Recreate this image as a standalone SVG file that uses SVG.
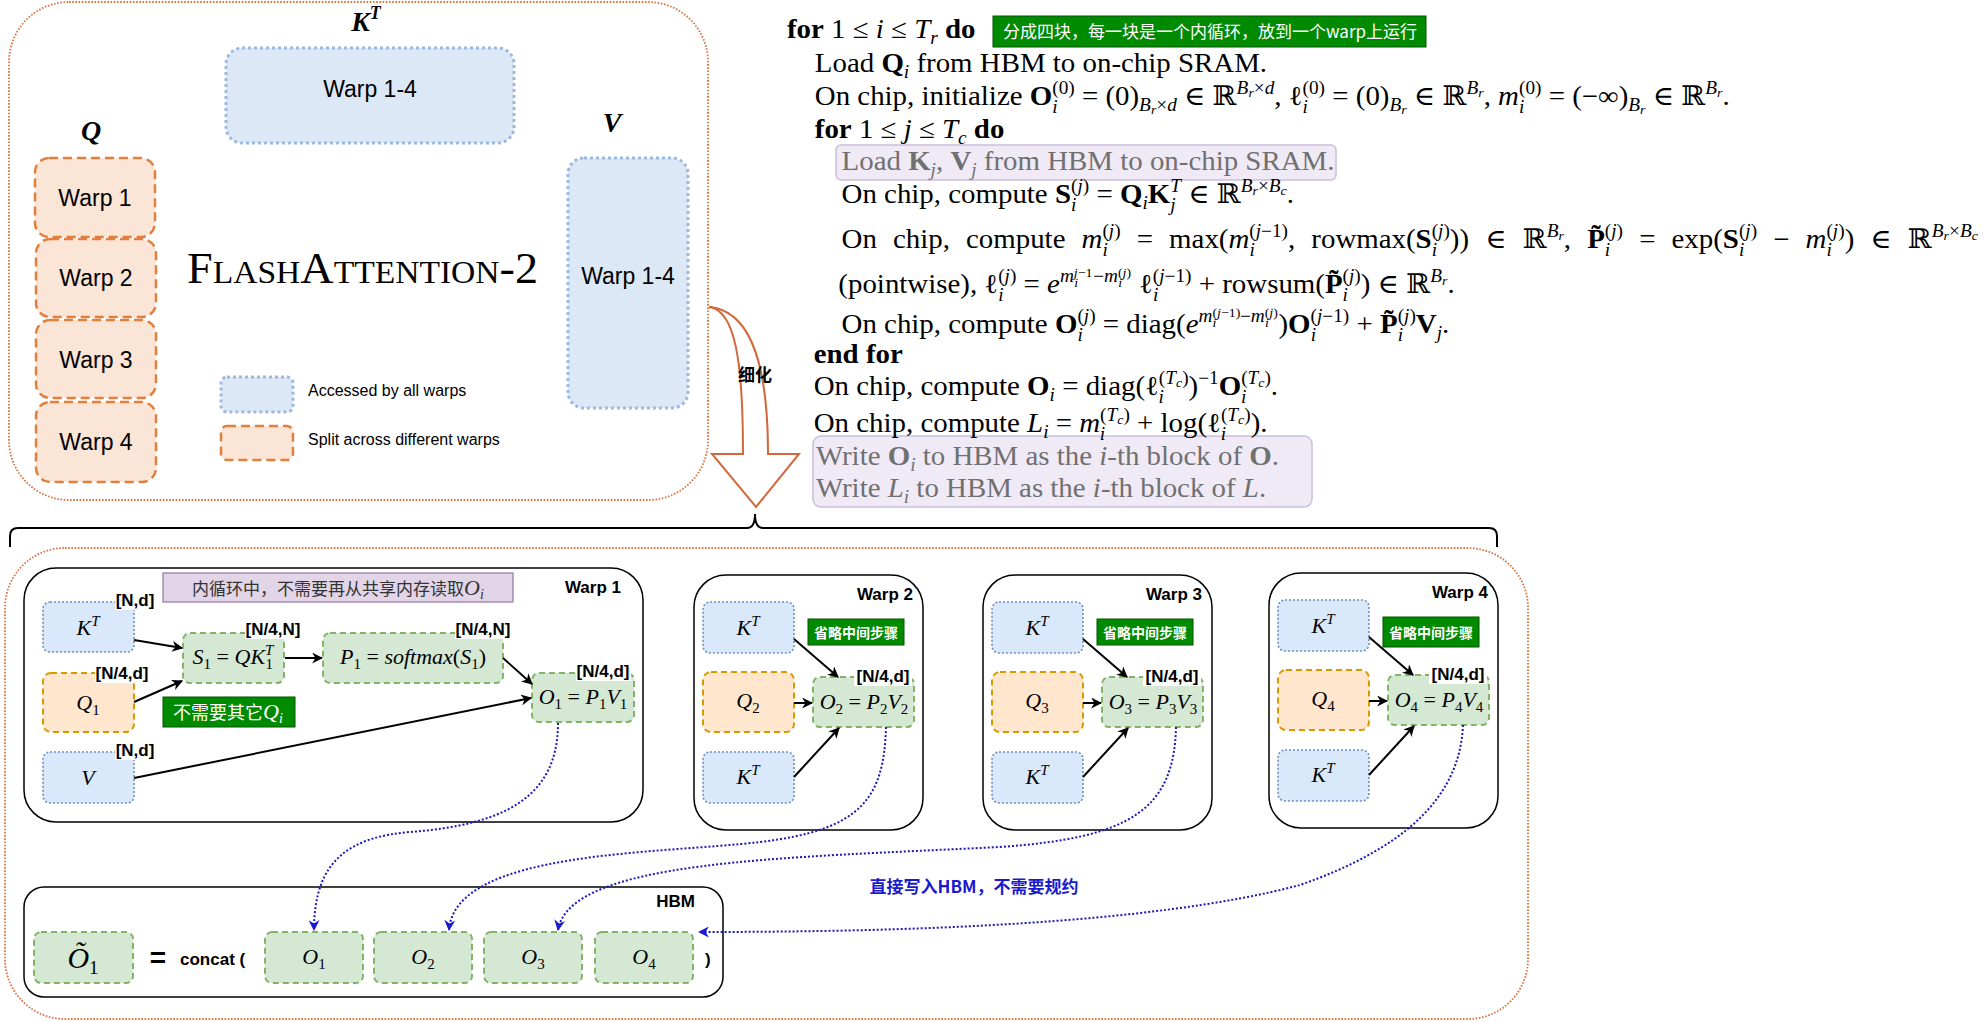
<svg xmlns="http://www.w3.org/2000/svg" width="1988" height="1022" viewBox="0 0 1988 1022">
<defs>
<marker id="ah" viewBox="0 0 10 10" refX="9" refY="5" markerWidth="11" markerHeight="11" markerUnits="userSpaceOnUse" orient="auto"><path d="M0,0 L10,5 L0,10 L3,5 z" fill="#000"/></marker>
<marker id="ahb" viewBox="0 0 10 10" refX="9" refY="5" markerWidth="11" markerHeight="11" markerUnits="userSpaceOnUse" orient="auto"><path d="M0,0 L10,5 L0,10 L3,5 z" fill="#1a1ad0"/></marker>
<style>
.od{fill:none;stroke:#d9733f;stroke-width:1.8;stroke-dasharray:1.6 1.6}
.tb{fill:#dde8f6;stroke:#9db9e1;stroke-width:3;stroke-dasharray:3 3}
.tq{fill:#fbe5d6;stroke:#e07f3e;stroke-width:2.5;stroke-dasharray:9 5}
.cal{font-family:"Liberation Sans",Arial,sans-serif;fill:#000}
.bx{fill:#dae8fc;stroke:#6c8ebf;stroke-width:1.6;stroke-dasharray:2 2}
.qx{fill:#ffe6cc;stroke:#d79b00;stroke-width:2;stroke-dasharray:6 4}
.gx{fill:#d5e8d4;stroke:#82b366;stroke-width:2;stroke-dasharray:6 4}
.cont{fill:#fff;stroke:#000;stroke-width:1.5}
.gbox{fill:#008a00;stroke:#005700;stroke-width:1}
.lbl{font-family:"Liberation Sans",Arial,sans-serif;font-weight:bold;font-size:17px;fill:#000}
.m{font-family:"Liberation Serif","DejaVu Serif",serif;font-style:italic;font-size:22px;fill:#000}
.ms{font-size:15px}
.up{font-style:normal}
.a{font-family:"Liberation Serif","DejaVu Serif",serif;font-size:27px;fill:#000}
.b{font-weight:bold;font-style:normal}
.it{font-style:italic}
.s{font-size:18px}
.ss{font-size:13px}
.g{fill:#707070}
.cjk{font-family:"Noto Sans CJK SC","Liberation Sans",sans-serif}
.conn{fill:none;stroke:#000;stroke-width:2}
.bc{fill:none;stroke:#1a1ab8;stroke-width:2;stroke-dasharray:2 2}
</style>
</defs>

<!-- ===== Top-left FlashAttention-2 panel ===== -->
<g id="top-panel">
<rect class="od" x="9" y="2" width="699" height="498" rx="60"/>
<text x="366" y="31" text-anchor="middle" font-family="Liberation Serif,serif" font-weight="bold" font-style="italic" font-size="28">K<tspan font-size="18" dy="-12">T</tspan></text>
<text x="91" y="140" text-anchor="middle" font-family="Liberation Serif,serif" font-weight="bold" font-style="italic" font-size="28">Q</text>
<text x="612" y="132" text-anchor="middle" font-family="Liberation Serif,serif" font-weight="bold" font-style="italic" font-size="28">V</text>
</g>
<g id="kt-top">
<rect class="tb" x="226" y="48" width="288" height="95" rx="16"/>
<text class="cal" x="370" y="97" text-anchor="middle" font-size="23">Warp 1-4</text>
</g>
<g id="v-top">
<rect class="tb" x="568" y="158" width="120" height="250" rx="16"/>
<text class="cal" x="628" y="284" text-anchor="middle" font-size="23">Warp 1-4</text>
</g>
<g id="q-warp1"><rect class="tq" x="35" y="158" width="120" height="79" rx="14"/><text class="cal" x="95" y="206" text-anchor="middle" font-size="23">Warp 1</text></g>
<g id="q-warp2"><rect class="tq" x="36" y="239" width="120" height="78" rx="14"/><text class="cal" x="96" y="286" text-anchor="middle" font-size="23">Warp 2</text></g>
<g id="q-warp3"><rect class="tq" x="36" y="320" width="120" height="78" rx="14"/><text class="cal" x="96" y="368" text-anchor="middle" font-size="23">Warp 3</text></g>
<g id="q-warp4"><rect class="tq" x="36" y="402" width="120" height="80" rx="14"/><text class="cal" x="96" y="450" text-anchor="middle" font-size="23">Warp 4</text></g>
<g id="title">
<text x="187" y="283" font-family="Liberation Serif,serif" font-size="44" textLength="351" lengthAdjust="spacingAndGlyphs">F<tspan font-size="32">LASH</tspan>A<tspan font-size="32">TTENTION</tspan>-2</text>
</g>
<g id="legend">
<rect class="tb" x="221" y="377" width="72" height="35" rx="6"/>
<text class="cal" x="308" y="396" font-size="16">Accessed by all warps</text>
<rect class="tq" x="221" y="426" width="72" height="34" rx="6"/>
<text class="cal" x="308" y="445" font-size="16">Split across different warps</text>
</g>

<!-- ===== refine arrow ===== -->
<g id="refine-arrow">
<path d="M709,307 C735,310 743,360 743,454 L712,454 L756,507 L799,454 L768,454 C768,350 745,310 709,307 Z" fill="#fff" stroke="#d2693c" stroke-width="2"/>
<text class="cjk" x="755" y="381" text-anchor="middle" font-size="17" font-weight="bold">细化</text>
</g>

<!-- ===== Algorithm ===== -->
<g id="algorithm">
<rect class="gbox" x="993" y="16" width="433" height="31"/>
<text class="cjk" x="1210" y="38" text-anchor="middle" font-size="17" fill="#fff">分成四块，每一块是一个内循环，放到一个warp上运行</text>
<rect x="836" y="145" width="500" height="35" rx="5" fill="#efeaf5" stroke="#cbbfdc" stroke-width="1.5"/>
<rect x="813" y="436" width="499" height="71" rx="8" fill="#efeaf5" stroke="#cbbfdc" stroke-width="1.5"/>
<g transform="translate(787,0) scale(1.07,1) translate(-787,0)">
<text class="a" x="787" y="38"><tspan class="b">for</tspan> 1 ≤ <tspan class="it">i</tspan> ≤ <tspan class="it">T</tspan><tspan class="s it" dy="6">r</tspan> <tspan class="b" dy="-6">do</tspan></text>

<text class="a" x="813" y="72">Load <tspan class="b">Q</tspan><tspan class="s it" dy="6">i</tspan><tspan dy="-6"> from HBM to on-chip SRAM.</tspan></text>

<text class="a" x="813" y="105">On chip, initialize <tspan class="b">O</tspan><tspan class="s" dy="-11">(0)</tspan><tspan class="s it" dx="-21" dy="19">i</tspan><tspan dx="16" dy="-8"> = (0)</tspan><tspan class="s it" dy="6">B</tspan><tspan class="ss it" dy="3">r</tspan><tspan class="s" dy="-3">×</tspan><tspan class="s it">d</tspan><tspan dy="-6"> ∈ ℝ</tspan><tspan class="s it" dy="-11">B</tspan><tspan class="ss it" dy="3">r</tspan><tspan class="s" dy="-3">×</tspan><tspan class="s it">d</tspan><tspan dy="11">, ℓ</tspan><tspan class="s" dy="-11">(0)</tspan><tspan class="s it" dx="-21" dy="19">i</tspan><tspan dx="16" dy="-8"> = (0)</tspan><tspan class="s it" dy="6">B</tspan><tspan class="ss it" dy="3">r</tspan><tspan dy="-9"> ∈ ℝ</tspan><tspan class="s it" dy="-11">B</tspan><tspan class="ss it" dy="3">r</tspan><tspan dy="8">, </tspan><tspan class="it">m</tspan><tspan class="s" dy="-11">(0)</tspan><tspan class="s it" dx="-21" dy="19">i</tspan><tspan dx="16" dy="-8"> = (−∞)</tspan><tspan class="s it" dy="6">B</tspan><tspan class="ss it" dy="3">r</tspan><tspan dy="-9"> ∈ ℝ</tspan><tspan class="s it" dy="-11">B</tspan><tspan class="ss it" dy="3">r</tspan><tspan dy="8">.</tspan></text>

<text class="a" x="813" y="138"><tspan class="b">for</tspan> 1 ≤ <tspan class="it">j</tspan> ≤ <tspan class="it">T</tspan><tspan class="s it" dy="6">c</tspan> <tspan class="b" dy="-6">do</tspan></text>

<text class="a g" x="838" y="170">Load <tspan class="b">K</tspan><tspan class="s it" dy="6">j</tspan><tspan dy="-6">, </tspan><tspan class="b">V</tspan><tspan class="s it" dy="6">j</tspan><tspan dy="-6"> from HBM to on-chip SRAM.</tspan></text>

<text class="a" x="838" y="203">On chip, compute <tspan class="b">S</tspan><tspan class="s" dy="-11">(</tspan><tspan class="s it">j</tspan><tspan class="s">)</tspan><tspan class="s it" dx="-17" dy="19">i</tspan><tspan dx="12" dy="-8"> = </tspan><tspan class="b">Q</tspan><tspan class="s it" dy="6">i</tspan><tspan class="b" dy="-6">K</tspan><tspan class="s it" dy="-11">T</tspan><tspan class="s it" dx="-10" dy="19">j</tspan><tspan dx="5" dy="-8"> ∈ ℝ</tspan><tspan class="s it" dy="-11">B</tspan><tspan class="ss it" dy="3">r</tspan><tspan class="s" dy="-3">×</tspan><tspan class="s it">B</tspan><tspan class="ss it" dy="3">c</tspan><tspan dy="8">.</tspan></text>

<text class="a" x="838" y="248" word-spacing="8.3">On chip, compute <tspan class="it">m</tspan><tspan class="s" dy="-11">(</tspan><tspan class="s it">j</tspan><tspan class="s">)</tspan><tspan class="s it" dx="-17" dy="19">i</tspan><tspan dx="12" dy="-8"> = max(</tspan><tspan class="it">m</tspan><tspan class="s" dy="-11">(</tspan><tspan class="s it">j</tspan><tspan class="s">−1)</tspan><tspan class="s it" dx="-36" dy="19">i</tspan><tspan dx="31" dy="-8">, rowmax(</tspan><tspan class="b">S</tspan><tspan class="s" dy="-11">(</tspan><tspan class="s it">j</tspan><tspan class="s">)</tspan><tspan class="s it" dx="-17" dy="19">i</tspan><tspan dx="12" dy="-8">)) ∈ ℝ</tspan><tspan class="s it" dy="-11">B</tspan><tspan class="ss it" dy="3">r</tspan><tspan dy="8">, </tspan><tspan class="b">P̃</tspan><tspan class="s" dy="-11">(</tspan><tspan class="s it">j</tspan><tspan class="s">)</tspan><tspan class="s it" dx="-17" dy="19">i</tspan><tspan dx="12" dy="-8"> = exp(</tspan><tspan class="b">S</tspan><tspan class="s" dy="-11">(</tspan><tspan class="s it">j</tspan><tspan class="s">)</tspan><tspan class="s it" dx="-17" dy="19">i</tspan><tspan dx="12" dy="-8"> − </tspan><tspan class="it">m</tspan><tspan class="s" dy="-11">(</tspan><tspan class="s it">j</tspan><tspan class="s">)</tspan><tspan class="s it" dx="-17" dy="19">i</tspan><tspan dx="12" dy="-8">) ∈ ℝ</tspan><tspan class="s it" dy="-11">B</tspan><tspan class="ss it" dy="3">r</tspan><tspan class="s" dy="-3">×</tspan><tspan class="s it">B</tspan><tspan class="ss it" dy="3">c</tspan></text>

<text class="a" x="835" y="293">(pointwise), ℓ<tspan class="s" dy="-11">(</tspan><tspan class="s it">j</tspan><tspan class="s">)</tspan><tspan class="s it" dx="-17" dy="19">i</tspan><tspan dx="12" dy="-8"> = </tspan><tspan class="it">e</tspan><tspan class="s it" dy="-11">m</tspan><tspan class="ss it" dy="-5">j</tspan><tspan class="ss">−1</tspan><tspan class="ss it" dx="-17" dy="10">i</tspan><tspan class="s" dx="14" dy="-5">−</tspan><tspan class="s it">m</tspan><tspan class="ss" dy="-5">(</tspan><tspan class="ss it">j</tspan><tspan class="ss">)</tspan><tspan class="ss it" dx="-12" dy="10">i</tspan><tspan dx="9" dy="6"> ℓ</tspan><tspan class="s" dy="-11">(</tspan><tspan class="s it">j</tspan><tspan class="s">−1)</tspan><tspan class="s it" dx="-36" dy="19">i</tspan><tspan dx="31" dy="-8"> + rowsum(</tspan><tspan class="b">P̃</tspan><tspan class="s" dy="-11">(</tspan><tspan class="s it">j</tspan><tspan class="s">)</tspan><tspan class="s it" dx="-17" dy="19">i</tspan><tspan dx="12" dy="-8">) ∈ ℝ</tspan><tspan class="s it" dy="-11">B</tspan><tspan class="ss it" dy="3">r</tspan><tspan dy="8">.</tspan></text>

<text class="a" x="838" y="333">On chip, compute <tspan class="b">O</tspan><tspan class="s" dy="-11">(</tspan><tspan class="s it">j</tspan><tspan class="s">)</tspan><tspan class="s it" dx="-17" dy="19">i</tspan><tspan dx="12" dy="-8"> = diag(</tspan><tspan class="it">e</tspan><tspan class="s it" dy="-11">m</tspan><tspan class="ss" dy="-5">(</tspan><tspan class="ss it">j</tspan><tspan class="ss">−1)</tspan><tspan class="ss it" dx="-26" dy="10">i</tspan><tspan class="s" dx="22" dy="-5">−</tspan><tspan class="s it">m</tspan><tspan class="ss" dy="-5">(</tspan><tspan class="ss it">j</tspan><tspan class="ss">)</tspan><tspan class="ss it" dx="-12" dy="10">i</tspan><tspan dx="9" dy="6">)</tspan><tspan class="b">O</tspan><tspan class="s" dy="-11">(</tspan><tspan class="s it">j</tspan><tspan class="s">−1)</tspan><tspan class="s it" dx="-36" dy="19">i</tspan><tspan dx="31" dy="-8"> + </tspan><tspan class="b">P̃</tspan><tspan class="s" dy="-11">(</tspan><tspan class="s it">j</tspan><tspan class="s">)</tspan><tspan class="s it" dx="-17" dy="19">i</tspan><tspan class="b" dx="12" dy="-8">V</tspan><tspan class="s it" dy="6">j</tspan><tspan dy="-6">.</tspan></text>

<text class="a" x="812" y="363"><tspan class="b">end for</tspan></text>

<text class="a" x="812" y="395">On chip, compute <tspan class="b">O</tspan><tspan class="s it" dy="6">i</tspan><tspan dy="-6"> = diag(ℓ</tspan><tspan class="s" dy="-11">(</tspan><tspan class="s it">T</tspan><tspan class="ss it" dy="3">c</tspan><tspan class="s" dy="-3">)</tspan><tspan class="s it" dx="-28" dy="19">i</tspan><tspan dx="23" dy="-8">)</tspan><tspan class="s" dy="-11">−1</tspan><tspan class="b" dy="11">O</tspan><tspan class="s" dy="-11">(</tspan><tspan class="s it">T</tspan><tspan class="ss it" dy="3">c</tspan><tspan class="s" dy="-3">)</tspan><tspan class="s it" dx="-28" dy="19">i</tspan><tspan dx="23" dy="-8">.</tspan></text>

<text class="a" x="812" y="432">On chip, compute <tspan class="it">L</tspan><tspan class="s it" dy="6">i</tspan><tspan dy="-6"> = </tspan><tspan class="it">m</tspan><tspan class="s" dy="-11">(</tspan><tspan class="s it">T</tspan><tspan class="ss it" dy="3">c</tspan><tspan class="s" dy="-3">)</tspan><tspan class="s it" dx="-28" dy="19">i</tspan><tspan dx="23" dy="-8"> + log(ℓ</tspan><tspan class="s" dy="-11">(</tspan><tspan class="s it">T</tspan><tspan class="ss it" dy="3">c</tspan><tspan class="s" dy="-3">)</tspan><tspan class="s it" dx="-28" dy="19">i</tspan><tspan dx="23" dy="-8">).</tspan></text>

<text class="a g" x="814" y="465">Write <tspan class="b">O</tspan><tspan class="s it" dy="6">i</tspan><tspan dy="-6"> to HBM as the </tspan><tspan class="it">i</tspan>-th block of <tspan class="b">O</tspan>.</text>
<text class="a g" x="814" y="497">Write <tspan class="it">L</tspan><tspan class="s it" dy="6">i</tspan><tspan dy="-6"> to HBM as the </tspan><tspan class="it">i</tspan>-th block of <tspan class="it">L</tspan>.</text>
</g>
</g>

<!-- ===== Brace & bottom panel ===== -->
<g id="brace">
<path d="M10,547 L10,536 Q10,528 18,528 L747,528 Q755,528 755,514 Q755,528 763,528 L1489,528 Q1497,528 1497,536 L1497,547" fill="none" stroke="#000" stroke-width="2"/>
</g>
<g id="bottom-panel">
<rect class="od" x="5" y="548" width="1523" height="471" rx="60"/>
</g>

<!-- Warp 1 -->
<g id="warp1">
<rect class="cont" x="24" y="568" width="619" height="254" rx="32"/>
<text class="lbl" x="621" y="593" text-anchor="end">Warp 1</text>
<rect x="163" y="573" width="350" height="29" fill="#e1d5e7" stroke="#9673a6" stroke-width="1.2"/>
<text x="192" y="595" font-size="17" class="cjk" fill="#333">内循环中，不需要再从共享内存读取<tspan font-family="Liberation Serif,serif" font-style="italic" font-size="22">O</tspan><tspan font-family="Liberation Serif,serif" font-style="italic" font-size="14" dy="4">i</tspan></text>
</g>
<g id="w1-kt"><rect class="bx" x="43" y="602" width="91" height="50" rx="7"/><text class="m" x="88" y="635" text-anchor="middle">K<tspan class="ms" dy="-9">T</tspan></text></g>
<g id="w1-q"><rect class="qx" x="43" y="673" width="91" height="59" rx="8"/><text class="m" x="88" y="710" text-anchor="middle">Q<tspan class="ms up" dy="5">1</tspan></text></g>
<g id="w1-v"><rect class="bx" x="43" y="752" width="91" height="51" rx="7"/><text class="m" x="88" y="785" text-anchor="middle">V</text></g>
<g id="w1-s"><rect class="gx" x="183" y="633" width="101" height="50" rx="7"/><text class="m" x="233" y="664" text-anchor="middle">S<tspan class="ms up" dy="5">1</tspan><tspan class="up" dy="-5"> = </tspan>QK<tspan class="ms" dy="-9">T</tspan><tspan class="ms up" dx="-8" dy="14">1</tspan></text></g>
<g id="w1-p"><rect class="gx" x="323" y="633" width="180" height="50" rx="7"/><text class="m" x="413" y="664" text-anchor="middle">P<tspan class="ms up" dy="5">1</tspan><tspan class="up" dy="-5"> = </tspan>softmax<tspan class="up">(</tspan>S<tspan class="ms up" dy="5">1</tspan><tspan class="up" dy="-5">)</tspan></text></g>
<g id="w1-o"><rect class="gx" x="532" y="673" width="102" height="49" rx="7"/><text class="m" x="583" y="704" text-anchor="middle">O<tspan class="ms up" dy="5">1</tspan><tspan class="up" dy="-5"> = </tspan>P<tspan class="ms up" dy="5">1</tspan><tspan dy="-5">V</tspan><tspan class="ms up" dy="5">1</tspan></text></g>
<g id="w1-labels">
<rect x="115" y="590" width="40" height="20" fill="#fff"/><text class="lbl" x="135" y="606" text-anchor="middle">[N,d]</text>
<rect x="95" y="663" width="55" height="20" fill="#fff"/><text class="lbl" x="122" y="679" text-anchor="middle" fill="#1a1ae6">[N/4,d]</text>
<rect x="115" y="740" width="40" height="20" fill="#fff"/><text class="lbl" x="135" y="756" text-anchor="middle">[N,d]</text>
<rect x="245" y="619" width="57" height="20" fill="#fff"/><text class="lbl" x="273" y="635" text-anchor="middle">[N/4,N]</text>
<rect x="455" y="619" width="57" height="20" fill="#fff"/><text class="lbl" x="483" y="635" text-anchor="middle">[N/4,N]</text>
<rect x="576" y="661" width="55" height="20" fill="#fff"/><text class="lbl" x="603" y="677" text-anchor="middle">[N/4,d]</text>
</g>
<g id="w1-note"><rect class="gbox" x="163" y="697" width="132" height="30"/><text x="173" y="719" font-size="18" class="cjk" fill="#fff">不需要其它<tspan font-family="Liberation Serif,serif" font-style="italic" font-size="22">Q</tspan><tspan font-family="Liberation Serif,serif" font-style="italic" font-size="14" dy="4">i</tspan></text></g>

<!-- Warps 2-4 -->
<g id="warp2" transform="translate(694,575)">
<rect class="cont" x="0" y="0" width="229" height="255" rx="32"/>
<text class="lbl" x="219" y="25" text-anchor="end">Warp 2</text>
<rect class="bx" x="9" y="27" width="91" height="51" rx="7"/><text class="m" x="54" y="60" text-anchor="middle">K<tspan class="ms" dy="-9">T</tspan></text>
<rect class="gbox" x="114" y="44" width="96" height="26"/><text x="162" y="63" text-anchor="middle" font-size="14" font-weight="bold" class="cjk" fill="#fff">省略中间步骤</text>
<rect class="qx" x="9" y="97" width="91" height="60" rx="8"/><text class="m" x="54" y="133" text-anchor="middle">Q<tspan class="ms up" dy="5">2</tspan></text>
<rect class="gx" x="119" y="102" width="101" height="50" rx="7"/><text class="m" x="170" y="134" text-anchor="middle">O<tspan class="ms up" dy="5">2</tspan><tspan class="up" dy="-5"> = </tspan>P<tspan class="ms up" dy="5">2</tspan><tspan dy="-5">V</tspan><tspan class="ms up" dy="5">2</tspan></text>
<rect x="160" y="91" width="58" height="20" fill="#fff"/><text class="lbl" x="189" y="107" text-anchor="middle">[N/4,d]</text>
<rect class="bx" x="9" y="177" width="91" height="51" rx="7"/><text class="m" x="54" y="209" text-anchor="middle">K<tspan class="ms" dy="-9">T</tspan></text>
<path class="conn" d="M100,64 L144,102" marker-end="url(#ah)"/>
<path class="conn" d="M100,128 L118,128" marker-end="url(#ah)"/>
<path class="conn" d="M100,202 L145,153" marker-end="url(#ah)"/>
</g>
<g id="warp3" transform="translate(983,575)">
<rect class="cont" x="0" y="0" width="229" height="255" rx="32"/>
<text class="lbl" x="219" y="25" text-anchor="end">Warp 3</text>
<rect class="bx" x="9" y="27" width="91" height="51" rx="7"/><text class="m" x="54" y="60" text-anchor="middle">K<tspan class="ms" dy="-9">T</tspan></text>
<rect class="gbox" x="114" y="44" width="96" height="26"/><text x="162" y="63" text-anchor="middle" font-size="14" font-weight="bold" class="cjk" fill="#fff">省略中间步骤</text>
<rect class="qx" x="9" y="97" width="91" height="60" rx="8"/><text class="m" x="54" y="133" text-anchor="middle">Q<tspan class="ms up" dy="5">3</tspan></text>
<rect class="gx" x="119" y="102" width="101" height="50" rx="7"/><text class="m" x="170" y="134" text-anchor="middle">O<tspan class="ms up" dy="5">3</tspan><tspan class="up" dy="-5"> = </tspan>P<tspan class="ms up" dy="5">3</tspan><tspan dy="-5">V</tspan><tspan class="ms up" dy="5">3</tspan></text>
<rect x="160" y="91" width="58" height="20" fill="#fff"/><text class="lbl" x="189" y="107" text-anchor="middle">[N/4,d]</text>
<rect class="bx" x="9" y="177" width="91" height="51" rx="7"/><text class="m" x="54" y="209" text-anchor="middle">K<tspan class="ms" dy="-9">T</tspan></text>
<path class="conn" d="M100,64 L144,102" marker-end="url(#ah)"/>
<path class="conn" d="M100,128 L118,128" marker-end="url(#ah)"/>
<path class="conn" d="M100,202 L145,153" marker-end="url(#ah)"/>
</g>
<g id="warp4" transform="translate(1269,573)">
<rect class="cont" x="0" y="0" width="229" height="255" rx="32"/>
<text class="lbl" x="219" y="25" text-anchor="end">Warp 4</text>
<rect class="bx" x="9" y="27" width="91" height="51" rx="7"/><text class="m" x="54" y="60" text-anchor="middle">K<tspan class="ms" dy="-9">T</tspan></text>
<rect class="gbox" x="114" y="44" width="96" height="30"/><text x="162" y="65" text-anchor="middle" font-size="14" font-weight="bold" class="cjk" fill="#fff">省略中间步骤</text>
<rect class="qx" x="9" y="97" width="91" height="60" rx="8"/><text class="m" x="54" y="133" text-anchor="middle">Q<tspan class="ms up" dy="5">4</tspan></text>
<rect class="gx" x="119" y="102" width="101" height="50" rx="7"/><text class="m" x="170" y="134" text-anchor="middle">O<tspan class="ms up" dy="5">4</tspan><tspan class="up" dy="-5"> = </tspan>P<tspan class="ms up" dy="5">4</tspan><tspan dy="-5">V</tspan><tspan class="ms up" dy="5">4</tspan></text>
<rect x="160" y="91" width="58" height="20" fill="#fff"/><text class="lbl" x="189" y="107" text-anchor="middle">[N/4,d]</text>
<rect class="bx" x="9" y="177" width="91" height="51" rx="7"/><text class="m" x="54" y="209" text-anchor="middle">K<tspan class="ms" dy="-9">T</tspan></text>
<path class="conn" d="M100,64 L144,102" marker-end="url(#ah)"/>
<path class="conn" d="M100,128 L118,128" marker-end="url(#ah)"/>
<path class="conn" d="M100,202 L145,153" marker-end="url(#ah)"/>
</g>

<!-- HBM -->
<g id="hbm">
<rect class="cont" x="24" y="887" width="699" height="110" rx="20"/>
<text class="lbl" x="695" y="907" text-anchor="end">HBM</text>
<rect class="gx" x="34" y="932" width="99" height="51" rx="7"/>
<text x="83" y="968" text-anchor="middle" font-family="Liberation Serif,serif" font-style="italic" font-size="30">Õ<tspan font-size="19" font-style="normal" dy="6">1</tspan></text>
<text x="158" y="967" text-anchor="middle" font-family="Liberation Sans,sans-serif" font-weight="bold" font-size="28">=</text>
<text class="lbl" x="180" y="965">concat (</text>
<text class="lbl" x="705" y="965">)</text>
</g>
<g id="hbm-o1"><rect class="gx" x="265" y="932" width="98" height="51" rx="7"/><text class="m" x="314" y="964" text-anchor="middle" font-size="20">O<tspan class="ms up" dy="5">1</tspan></text></g>
<g id="hbm-o2"><rect class="gx" x="374" y="932" width="98" height="51" rx="7"/><text class="m" x="423" y="964" text-anchor="middle" font-size="20">O<tspan class="ms up" dy="5">2</tspan></text></g>
<g id="hbm-o3"><rect class="gx" x="484" y="932" width="98" height="51" rx="7"/><text class="m" x="533" y="964" text-anchor="middle" font-size="20">O<tspan class="ms up" dy="5">3</tspan></text></g>
<g id="hbm-o4"><rect class="gx" x="595" y="932" width="98" height="51" rx="7"/><text class="m" x="644" y="964" text-anchor="middle" font-size="20">O<tspan class="ms up" dy="5">4</tspan></text></g>

<!-- connectors -->
<g id="connectors">
<path class="conn" d="M134,640 L182,648" marker-end="url(#ah)"/>
<path class="conn" d="M134,702 L182,681" marker-end="url(#ah)"/>
<path class="conn" d="M285,658 L322,658" marker-end="url(#ah)"/>
<path class="conn" d="M503,658 L532,684" marker-end="url(#ah)"/>
<path class="conn" d="M134,778 L531,698" marker-end="url(#ah)"/>
<path class="bc" d="M558,723 C558,800 500,825 410,832 C350,837 314,860 314,930" marker-end="url(#ahb)"/>
<path class="bc" d="M886,727 C884,800 860,830 760,842 C660,854 455,850 449,930" marker-end="url(#ahb)"/>
<path class="bc" d="M1176,727 C1174,810 1130,838 1000,847 C780,858 570,860 558,930" marker-end="url(#ahb)"/>
<path class="bc" d="M1463,725 C1460,800 1400,850 1300,885 C1150,925 900,932 699,932" marker-end="url(#ahb)"/>
<text x="974" y="893" text-anchor="middle" font-size="17" font-weight="bold" class="cjk" fill="#1a1acc">直接写入HBM，不需要规约</text>
</g>
</svg>
